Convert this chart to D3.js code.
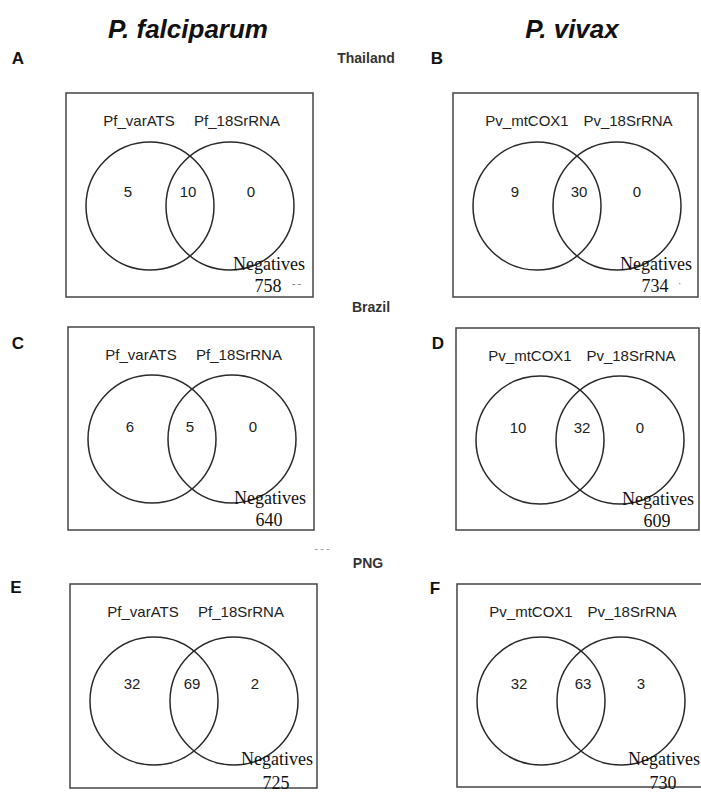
<!DOCTYPE html>
<html>
<head>
<meta charset="utf-8">
<script src="https://cdn.jsdelivr.net/npm/d3@7"></script>
<style>
  body { margin: 0; background: #fff; }
  svg { display: block; }
</style>
</head>
<body>
<div id="venn"></div>
<script>
// one entry per panel, A..F (row by row, falciparum then vivax)
const panelLetters = ["A", "B", "C", "D", "E", "F"];
const countries = ["Thailand", "Brazil", "PNG"];
const species = ["P. falciparum", "P. vivax"];
const setLabels = [["Pf_varATS", "Pf_18SrRNA"], ["Pv_mtCOX1", "Pv_18SrRNA"]];
const onlyFirst = [5, 9, 6, 10, 32, 32];
const both = [10, 30, 5, 32, 69, 63];
const onlySecond = [0, 0, 0, 0, 2, 3];
const negatives = [758, 734, 640, 609, 725, 730];

const width = 701;
const height = 792;

// box placement of each panel
const boxes = [
  {x: 66, y: 93, w: 247, h: 204},
  {x: 453, y: 93, w: 245, h: 204},
  {x: 68, y: 327, w: 246, h: 203},
  {x: 456, y: 328, w: 243, h: 202},
  {x: 70, y: 584, w: 247, h: 204},
  {x: 457, y: 584, w: 247, h: 203}
];
const rowCy = [113, 112, 117];
const rowNumY = [99, 100, 100];
const rowNegX = [203, 202, 207];
const countryPos = [[366, 63], [371, 312], [368, 568]];
const letterPos = [[18, 64], [437, 64], [18, 349], [438, 349], [16, 593], [435, 594]];

const sans = "Liberation Sans, Arial, sans-serif";
const serif = "Liberation Serif, Times New Roman, serif";

const svg = d3.select("#venn")
  .append("svg")
  .attr("width", width)
  .attr("height", height)

// species headers
svg.selectAll(".species")
  .data(species)
  .enter()
  .append("text")
  .attr("class", "species")
  .attr("x", (d, i) => [188, 572][i])
  .attr("y", 38)
  .attr("text-anchor", "middle")
  .style("font-family", sans)
  .style("font-weight", "bold")
  .style("font-style", "italic")
  .style("font-size", "26px")
  .attr("fill", "#111")
  .text(d => d)

svg.selectAll(".country")
  .data(countries)
  .enter()
  .append("text")
  .attr("class", "country")
  .attr("x", (d, i) => countryPos[i][0])
  .attr("y", (d, i) => countryPos[i][1])
  .attr("text-anchor", "middle")
  .style("font-family", sans)
  .style("font-weight", "bold")
  .style("font-size", "14px")
  .attr("fill", "#333")
  .text(d => d)

svg.selectAll(".letter")
  .data(panelLetters)
  .enter()
  .append("text")
  .attr("class", "letter")
  .attr("x", (d, i) => letterPos[i][0])
  .attr("y", (d, i) => letterPos[i][1])
  .attr("text-anchor", "middle")
  .style("font-family", sans)
  .style("font-weight", "bold")
  .style("font-size", "17px")
  .attr("fill", "#111")
  .text(d => d)

// small stray marks from the scan
svg.append("text")
  .attr("x", 322).attr("y", 552)
  .attr("text-anchor", "middle")
  .style("font-family", serif)
  .style("font-size", "10px")
  .attr("fill", "#888")
  .text("- - -")

const panels = svg.selectAll(".panel")
  .data(panelLetters)
  .enter()
  .append("g")
  .attr("class", "panel")
  .attr("transform", (d, i) => `translate(${boxes[i].x}, ${boxes[i].y})`)

panels.append("rect")
  .attr("width", (d, i) => boxes[i].w)
  .attr("height", (d, i) => boxes[i].h)
  .attr("fill", "none")
  .attr("stroke", "#444")
  .attr("stroke-width", 1.5)

// two set circles, placed with a point scale
const setX = d3.scalePoint().domain([0, 1]).range([84, 164])

panels.each(function (d, i) {
  const g = d3.select(this);
  const row = Math.floor(i / 2);
  const col = i % 2;
  const cy = rowCy[row];

  g.selectAll("circle")
    .data([0, 1])
    .enter()
    .append("circle")
    .attr("cx", k => setX(k))
    .attr("cy", cy)
    .attr("r", 64)
    .attr("fill", "none")
    .attr("stroke", "#2a2a2a")
    .attr("stroke-width", 1.5)

  const labelX = col === 0 ? [73, 171] : [74, 175];
  g.selectAll(".setlabel")
    .data(setLabels[col])
    .enter()
    .append("text")
    .attr("class", "setlabel")
    .attr("x", (t, k) => labelX[k])
    .attr("y", 33)
    .attr("text-anchor", "middle")
    .style("font-family", sans)
    .style("font-size", "15px")
    .attr("fill", "#222")
    .text(t => t)

  const counts = [onlyFirst[i], both[i], onlySecond[i]];
  const numX = col === 0 ? [62, 122, 185] : [62, 126, 184];
  g.selectAll(".count")
    .data(counts)
    .enter()
    .append("text")
    .attr("class", "count")
    .attr("x", (c, k) => numX[k])
    .attr("y", rowNumY[row] + 5)
    .attr("text-anchor", "middle")
    .style("font-family", sans)
    .style("font-size", "15px")
    .attr("fill", "#222")
    .text(c => c)

  g.append("text")
    .attr("x", rowNegX[row])
    .attr("y", row === 2 ? 181 : 177)
    .attr("text-anchor", "middle")
    .style("font-family", serif)
    .style("font-size", "18px")
    .attr("fill", "#111")
    .text("Negatives")

  g.append("text")
    .attr("x", rowNegX[row] - 1)
    .attr("y", row === 2 ? 205 : 199)
    .attr("text-anchor", "middle")
    .style("font-family", serif)
    .style("font-size", "18px")
    .attr("fill", "#111")
    .text(negatives[i])
})

// stray dashes after the Thailand counts
svg.append("text")
  .attr("x", 292).attr("y", 287)
  .style("font-family", serif).style("font-size", "10px")
  .attr("fill", "#666").text("- -")
svg.append("text")
  .attr("x", 678).attr("y", 287)
  .style("font-family", serif).style("font-size", "10px")
  .attr("fill", "#666").text("·")
</script>
</body>
</html>
